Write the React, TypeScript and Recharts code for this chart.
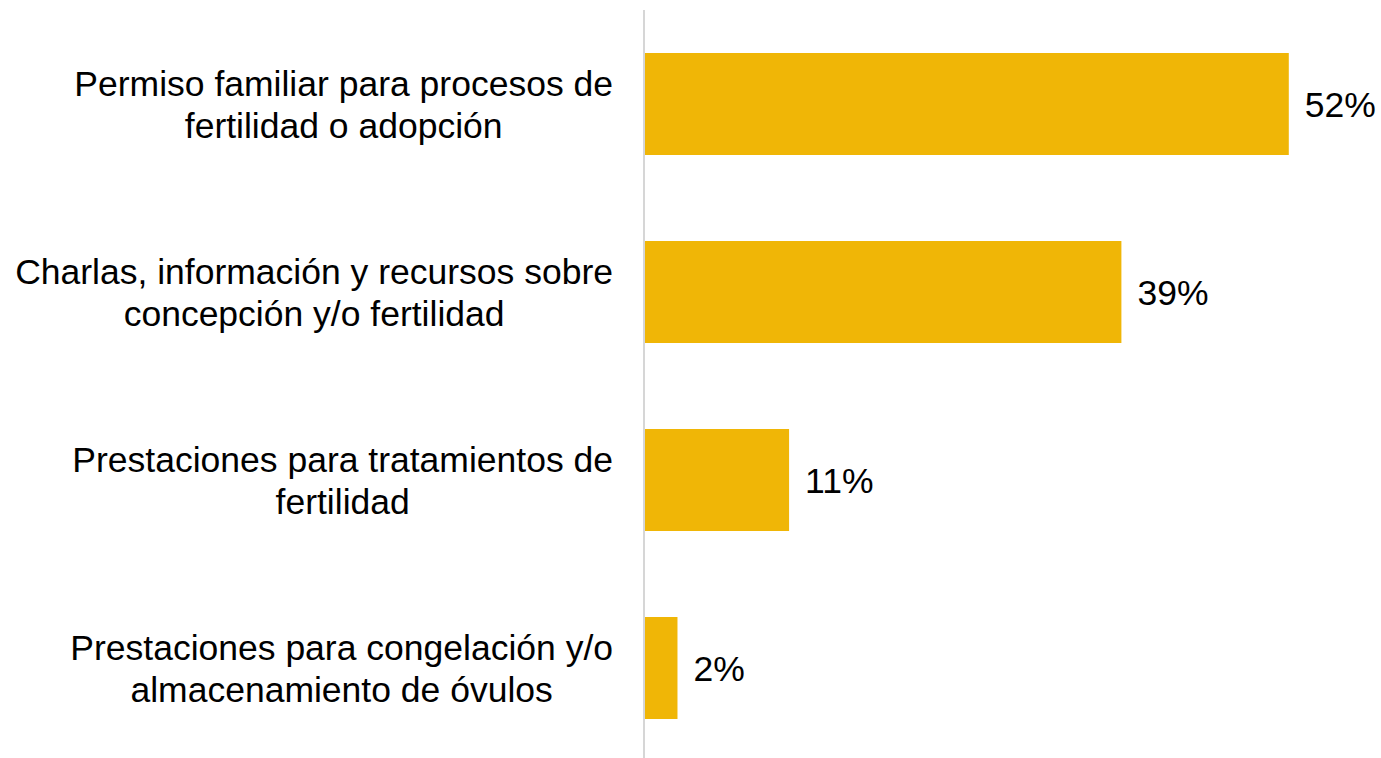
import React from 'react';
import { BarChart, Bar, XAxis, YAxis, LabelList } from 'recharts';

const categories = [
  'Permiso familiar para procesos de\nfertilidad o adopción',
  'Charlas, información y recursos sobre\nconcepción y/o fertilidad',
  'Prestaciones para tratamientos de\nfertilidad',
  'Prestaciones para congelación y/o\nalmacenamiento de óvulos',
];
const values = [52, 38.5, 11.7, 2.7];
const valueLabels = ['52%', '39%', '11%', '2%'];

const data = categories.map((name, i) => ({ name, value: values[i], label: valueLabels[i] }));

const FONT = "'Liberation Sans', Arial, sans-serif";
const FONT_SIZE = 35.5;
const LINE_H = 42;

let ctx: CanvasRenderingContext2D | null = null;
function measure(text: string): number {
  if (!ctx) {
    const c = document.createElement('canvas');
    ctx = c.getContext('2d');
  }
  if (!ctx) return text.length * FONT_SIZE * 0.5;
  ctx.font = `${FONT_SIZE}px ${FONT}`;
  return ctx.measureText(text).width;
}

const CategoryTick = (props: any) => {
  const { x, y, payload } = props;
  const lines = String(payload.value).split('\n');
  const w = Math.max(...lines.map(measure));
  const cx = x - w / 2;
  const startY = y - ((lines.length - 1) * LINE_H) / 2;
  return (
    <text x={cx} y={startY} textAnchor="middle" fontSize={FONT_SIZE} fontFamily={FONT} fill="#000">
      {lines.map((l, i) => (
        <tspan key={i} x={cx} y={startY + i * LINE_H} dy="0.36em">
          {l}
        </tspan>
      ))}
    </text>
  );
};

export default function App() {
  return (
    <div
      style={{
        position: 'absolute',
        left: 0,
        top: 0,
        width: 1381,
        height: 758,
        overflow: 'hidden',
        background: '#fff',
      }}
    >
      <BarChart
        layout="vertical"
        width={1381}
        height={762}
        data={data}
        margin={{ top: 10, right: 55, bottom: 0, left: 0 }}
      >
        <XAxis type="number" domain={[0, 55]} hide />
        <YAxis
          type="category"
          dataKey="name"
          width={644}
          tickLine={false}
          tickSize={0}
          tickMargin={31}
          axisLine={{ stroke: '#d6d6d6', strokeWidth: 2 }}
          tick={<CategoryTick />}
          interval={0}
        />
        <Bar dataKey="value" fill="#F0B606" barSize={102} isAnimationActive={false}>
          <LabelList
            dataKey="label"
            position="right"
            offset={16}
            fill="#000"
            style={{ fontSize: FONT_SIZE, fontFamily: FONT, fill: '#000' }}
          />
        </Bar>
      </BarChart>
    </div>
  );
}
